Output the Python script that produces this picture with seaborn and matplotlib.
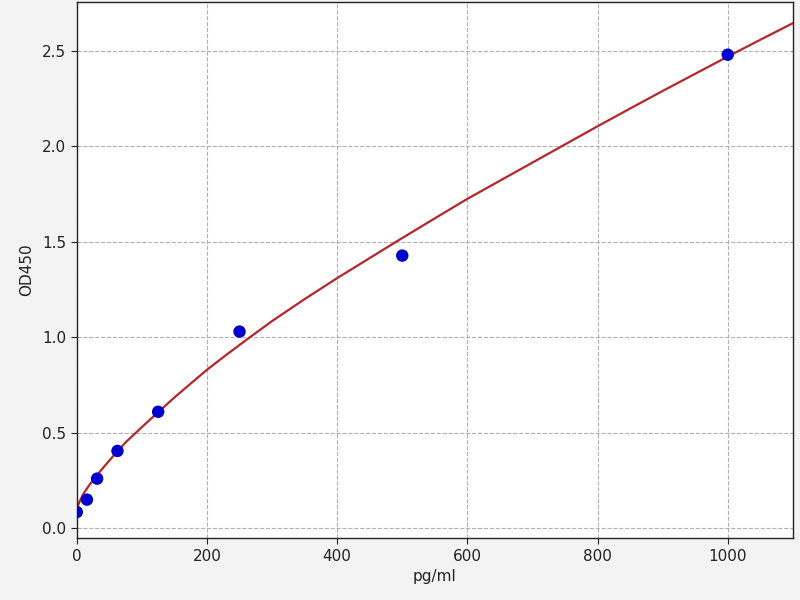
import pandas as pd
import matplotlib
matplotlib.use("Agg")
import matplotlib.pyplot as plt
import seaborn as sns

# standard points (concentration, OD)
conc = [0, 15.6, 31.25, 62.5, 125, 250, 500, 1000]
od = [0.085, 0.150, 0.260, 0.405, 0.610, 1.030, 1.428, 2.480]

# fitted curve
curve_x = [0, 2, 5, 10, 20, 35, 50, 75, 100, 125, 150, 175, 200, 225, 250, 275,
           300, 350, 400, 450, 500, 550, 600, 650, 700, 750, 800, 850, 900,
           950, 1000, 1050, 1100]
curve_y = [0.10, 0.12, 0.145, 0.18, 0.23, 0.295, 0.355, 0.45, 0.53, 0.608, 0.685,
           0.758, 0.83, 0.896, 0.96, 1.023, 1.085, 1.20, 1.31, 1.415, 1.52,
           1.623, 1.725, 1.82, 1.915, 2.01, 2.105, 2.198, 2.29, 2.38, 2.47,
           2.558, 2.645]

pts = pd.DataFrame({"x": conc, "y": od})
fit = pd.DataFrame({"x": curve_x, "y": curve_y})

sns.set_style("ticks")
plt.rcParams["font.family"] = ["DejaVu Sans"]

fig = plt.figure(figsize=(8, 6), dpi=100, facecolor="#f3f3f3")
ax = fig.add_axes([0.096, 0.103, 0.895, 0.894])
ax.set_facecolor("white")

sns.lineplot(data=fit, x="x", y="y", ax=ax, color="#b5262a", linewidth=1.6,
             zorder=2)
sns.scatterplot(data=pts, x="x", y="y", ax=ax, color="#0000cc", s=80,
                edgecolor="none", zorder=3)

ax.set_xlim(0, 1100)
ax.set_ylim(-0.052, 2.757)
ax.set_xticks([0, 200, 400, 600, 800, 1000])
ax.set_yticks([0.0, 0.5, 1.0, 1.5, 2.0, 2.5])
ax.grid(True, linestyle="--", color="#b0b0b0", linewidth=0.8)
ax.set_axisbelow(True)
ax.tick_params(labelsize=11, length=4, color="#222222", labelcolor="#222222")
for s in ax.spines.values():
    s.set_color("#222222")
    s.set_linewidth(1.0)

ax.set_xlabel("pg/ml", fontsize=11, labelpad=4, color="#222222")
ax.set_ylabel("OD450", fontsize=11, labelpad=6, color="#222222")

fig.savefig("out.png", dpi=100, facecolor=fig.get_facecolor())
